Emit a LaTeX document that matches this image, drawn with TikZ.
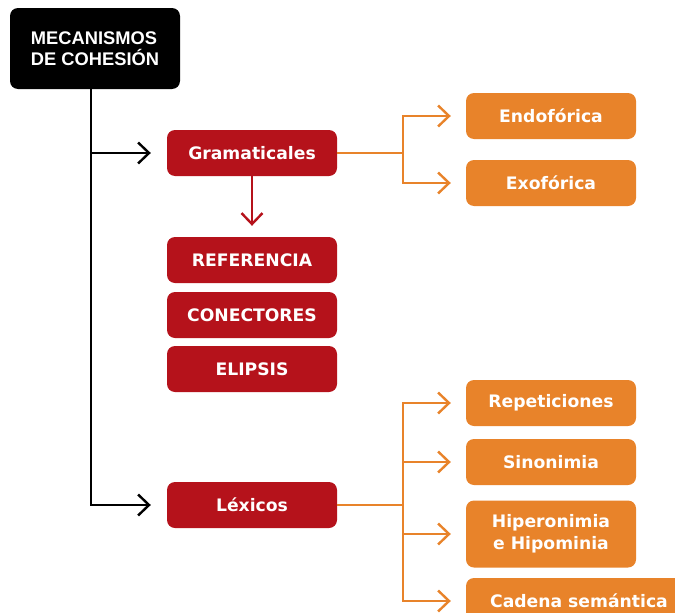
\documentclass[tikz,border=0pt]{standalone}
\usepackage{fontspec}
\setmainfont{DejaVu Sans}
\newfontfamily\headfont{Liberation Sans}
\usetikzlibrary{arrows.meta,positioning}
\definecolor{cajaroja}{RGB}{181,18,27}
\definecolor{cajanaranja}{RGB}{232,131,42}

\begin{document}
\begin{tikzpicture}[x=1pt,y=-1pt]
\tikzstyle{every node}=[rounded corners=8pt,text=white,inner sep=0pt,align=center,
  minimum width=170pt,minimum height=46pt,font=\bfseries\fontsize{17.2}{22}\selectfont]
\tikzstyle{rojo}=[fill=cajaroja]
\tikzstyle{naranja}=[fill=cajanaranja]
\tikzstyle{flecha}=[line width=2.4pt,-{Straight Barb[length=11pt,width=21pt]}]
\clip (0,0) rectangle (675,613);
\useasboundingbox (0,0) rectangle (675,613);
% raiz
\node[fill=black,minimum height=81pt,align=left,
  font=\headfont\bfseries\fontsize{18.3}{20.5}\selectfont] (raiz) at (95,48.5) {MECANISMOS\\DE COHESIÓN};
% columna roja
\node[rojo] (gram) at (252,153) {Gramaticales};
\node[rojo] (refe) at (252,260) {REFERENCIA};
\node[rojo] (cone) at (252,315) {CONECTORES};
\node[rojo] (elip) at (252,369) {ELIPSIS};
\node[rojo] (lexi) at (252,505) {Léxicos};
% columna naranja
\node[naranja] (endo) at (551,116) {Endofórica};
\node[naranja] (exof) at (551,183) {Exofórica};
\node[naranja] (repe) at (551,403) {Repeticiones};
\node[naranja] (sino) at (551,462) {Sinonimia};
\node[naranja,minimum height=67pt] (hipe) at (551,534) {Hiperonimia\\e Hipominia};
\node[naranja,minimum width=226pt] (cade) at (579,601) {Cadena semántica};
% flechas
\draw[flecha,shorten >=16pt] ([xshift=-4pt]raiz.south) |- (gram.west);
\draw[flecha,shorten >=16pt] ([xshift=-4pt]raiz.south) |- (lexi.west);
\draw[flecha,cajaroja,shorten >=11pt] (gram.south) -- (refe.north);
\foreach \n in {endo,exof}
  \draw[flecha,cajanaranja,shorten >=15pt] (gram.east) -- ++(66,0) |- (\n.west);
\foreach \n in {repe,sino,hipe,cade}
  \draw[flecha,cajanaranja,shorten >=15pt] (lexi.east) -- ++(66,0) |- (\n.west);
\end{tikzpicture}
\end{document}
